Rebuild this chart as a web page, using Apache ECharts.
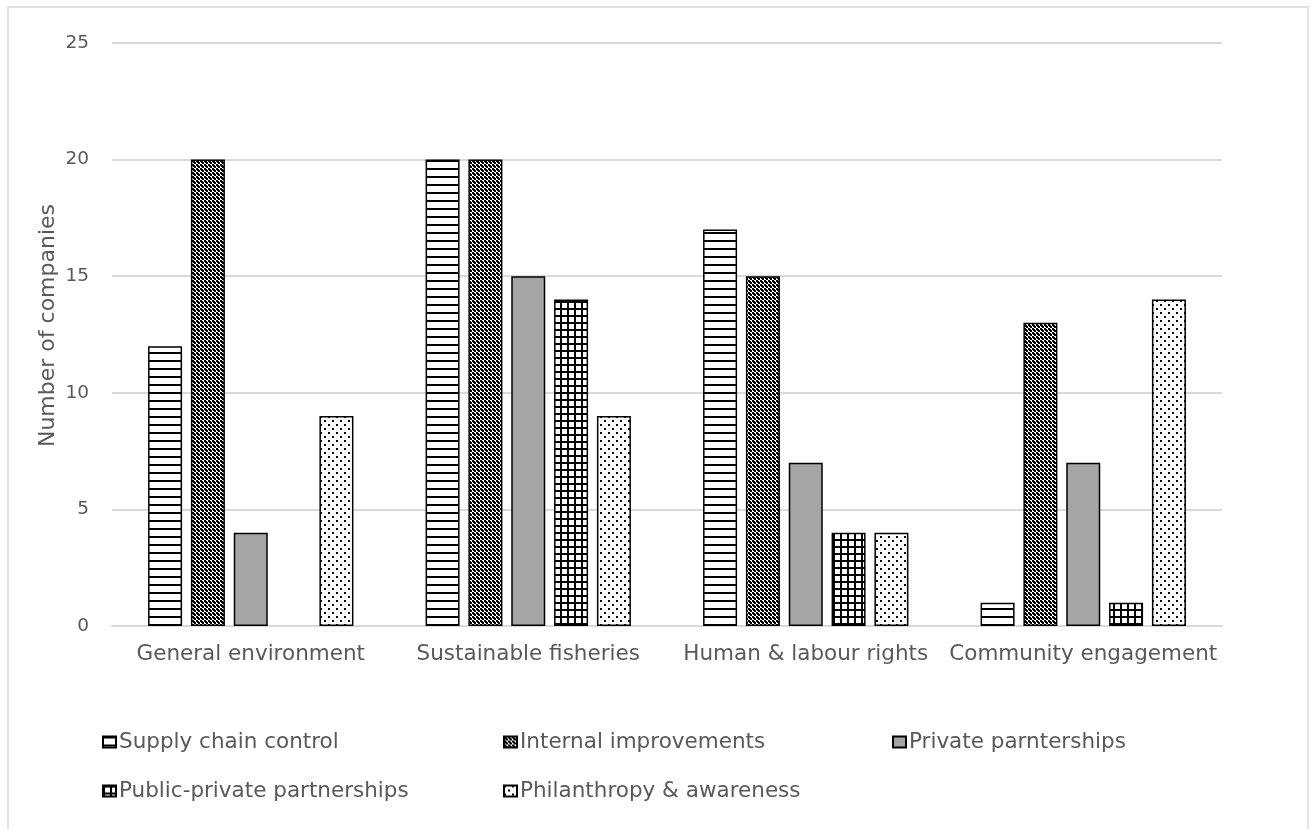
<!DOCTYPE html>
<html>
<head>
<meta charset="utf-8">
<script src="https://cdn.jsdelivr.net/npm/echarts@6/dist/echarts.min.js"></script>
<style>
html,body{margin:0;padding:0;background:#fff;}
#chart{width:1316px;height:829px;}
</style>
</head>
<body>
<div id="chart"></div>
<script>
const categories = ['General environment', 'Sustainable fisheries', 'Human & labour rights', 'Community engagement'];
const seriesNames = ['Supply chain control', 'Internal improvements', 'Private parnterships', 'Public-private partnerships', 'Philanthropy & awareness'];
const supplyChain = [12, 20, 17, 1];
const internalImprovements = [20, 20, 15, 13];
const privatePartnerships = [4, 15, 7, 7];
const publicPrivate = [0, 14, 4, 1];
const philanthropy = [9, 9, 4, 14];
const yTicks = [0, 5, 10, 15, 20, 25];
const yTitle = 'Number of companies';

function tile(size, draw) {
  const c = document.createElement('canvas');
  c.width = size; c.height = size;
  const g = c.getContext('2d');
  g.fillStyle = '#fff'; g.fillRect(0, 0, size, size);
  g.fillStyle = '#000';
  draw(g);
  return { image: c, repeat: 'repeat' };
}
const patStripes = tile(8, g => { g.fillRect(0, 0, 8, 2); });
const patChecker = tile(4, g => { g.fillRect(0, 0, 2, 2); g.fillRect(2, 2, 2, 2); g.fillRect(1, 1, 2, 2); });
const patGrid = tile(7, g => { g.fillRect(0, 0, 7, 2); g.fillRect(0, 0, 2, 7); });
const patDots = tile(8, g => { g.fillRect(0, 0, 2, 2); g.fillRect(4, 4, 2, 2); });
const fills = [patStripes, patChecker, '#a5a5a5', patGrid, patDots];
const values = [supplyChain, internalImprovements, privatePartnerships, publicPrivate, philanthropy];

const FONT = 'DejaVu Sans';
const chart = echarts.init(document.getElementById('chart'), null, { renderer: 'canvas' });

const legendPos = [[102, 731], [503, 731], [892, 731], [102, 780], [503, 780]];

chart.setOption({
  animation: false,
  textStyle: { fontFamily: FONT },
  graphic: [{
    type: 'rect', silent: true,
    shape: { x: 8, y: 7, width: 1300, height: 900 },
    style: { fill: 'none', stroke: '#d9d9d9', lineWidth: 1.5 }
  }, {
    type: 'text', silent: true,
    x: 48, y: 325.5, rotation: Math.PI / 2,
    style: { text: yTitle, fontFamily: FONT, fontSize: 22, fill: '#595959', align: 'center', verticalAlign: 'middle' }
  }],
  grid: { left: 112, right: 94, top: 43, bottom: 203 },
  legend: seriesNames.map((n, i) => ({
    data: [n],
    left: legendPos[i][0], top: legendPos[i][1],
    padding: 0,
    itemWidth: 13, itemHeight: 11,
    icon: 'rect',
    textStyle: { fontFamily: FONT, fontSize: 21.5, color: '#595959', lineHeight: 22, padding: [0, 0, 0, -2] }
  })),
  xAxis: {
    type: 'category',
    data: categories,
    axisLine: { show: true, lineStyle: { color: '#d9d9d9', width: 2 } },
    axisTick: { show: false },
    axisLabel: { fontFamily: FONT, fontSize: 21.5, color: '#595959', margin: 17, interval: 0 }
  },
  yAxis: {
    type: 'value',
    min: 0, max: 25, interval: 5,
    axisLine: { show: false },
    axisTick: { show: false },
    axisLabel: { fontFamily: FONT, fontSize: 18.5, color: '#595959', margin: 23,
      formatter: v => yTicks.includes(v) ? String(v) : '' },
    splitLine: { lineStyle: { color: '#d9d9d9', width: 2 } }
  },
  series: seriesNames.map((n, i) => ({
    name: n,
    type: 'bar',
    data: values[i].map(v => v === 0 ? { value: v, itemStyle: { borderWidth: 0 } } : v),
    barGap: '26%',
    barCategoryGap: '26%',
    itemStyle: { color: fills[i], borderColor: '#000', borderWidth: 1.5 }
  }))
});
</script>
</body>
</html>
